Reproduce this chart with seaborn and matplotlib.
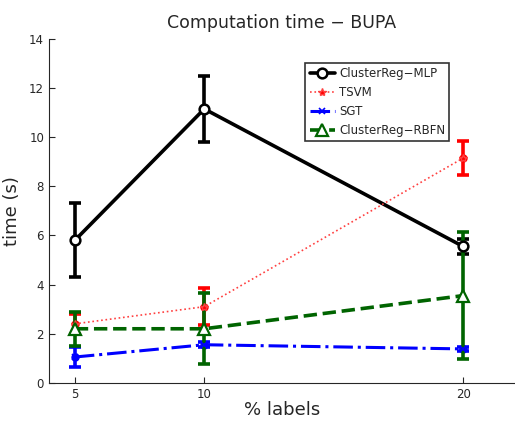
import matplotlib
matplotlib.use("Agg")
import matplotlib.pyplot as plt
import seaborn as sns
import pandas as pd

labels_pct = [5, 10, 20]
mlp_mean = [5.8, 11.15, 5.55]
mlp_err = [1.5, 1.35, 0.3]
tsvm_mean = [2.4, 3.1, 9.15]
tsvm_err = [0.4, 0.75, 0.7]
sgt_mean = [1.05, 1.55, 1.38]
sgt_err = [0.4, 0.1, 0.08]
rbfn_mean = [2.2, 2.2, 3.55]
rbfn_err = [0.7, 1.45, 2.6]

series = ["ClusterReg\u2212MLP", "TSVM", "SGT", "ClusterReg\u2212RBFN"]
means = [mlp_mean, tsvm_mean, sgt_mean, rbfn_mean]
errs = [mlp_err, tsvm_err, sgt_err, rbfn_err]

rows = []
for name, m, e in zip(series, means, errs):
    for x, v, s in zip(labels_pct, m, e):
        rows.append({"labels": x, "time": v, "err": s, "method": name})
df = pd.DataFrame(rows)

sns.set_style("ticks")
plt.rcParams["font.family"] = ["DejaVu Sans"]

fig = plt.figure(figsize=(5.15, 4.23), dpi=100)
ax = fig.add_axes([0.095, 0.095, 0.905, 0.813])

styles = {
    "ClusterReg\u2212MLP": dict(color="black", ls="-", lw=2.6, marker="o", mfc="white", ms=7, mew=1.8),
    "TSVM": dict(color="#ff4040", ls=":", lw=1.2, marker="*", mfc="red", ms=6, mew=1),
    "SGT": dict(color="#0000ff", ls="-.", lw=2.2, marker="x", mfc="blue", ms=5, mew=1.2),
    "ClusterReg\u2212RBFN": dict(color="#006400", ls="--", lw=2.6, marker="^", mfc="white", ms=8, mew=1.6),
}
err_colors = {
    "ClusterReg\u2212MLP": "black",
    "TSVM": "red",
    "SGT": "blue",
    "ClusterReg\u2212RBFN": "#006400",
}

for name in series:
    sub = df[df["method"] == name]
    st = styles[name]
    sns.lineplot(data=sub, x="labels", y="time", ax=ax, color=st["color"],
                 linestyle=st["ls"], linewidth=st["lw"], marker=st["marker"],
                 markerfacecolor=st["mfc"], markeredgecolor=st["color"],
                 markersize=st["ms"], markeredgewidth=st["mew"], label=name,
                 errorbar=None, zorder=3)
    ax.errorbar(sub["labels"], sub["time"], yerr=sub["err"], fmt="none",
                ecolor=err_colors[name], elinewidth=2.6, capsize=4,
                capthick=2.6, zorder=2)
    if name in ("TSVM", "SGT"):
        ax.plot(sub["labels"], sub["time"], "o", color=err_colors[name], ms=5, zorder=2)

ax.set_xlim(4, 22)
ax.set_ylim(0, 14)
ax.set_xticks(labels_pct)
ax.set_yticks(range(0, 15, 2))
ax.tick_params(direction="in", labelsize=8.5, length=4, width=0.8)
ax.tick_params(axis="x", pad=4)
sns.despine(ax=ax, top=True, right=True)
for sp in ("left", "bottom"):
    ax.spines[sp].set_linewidth(0.8)

ax.set_title("Computation time \u2212 BUPA", fontsize=12.5, pad=8)
ax.set_xlabel("% labels", fontsize=13, labelpad=0)
ax.set_ylabel("time (s)", fontsize=13, labelpad=6)

leg = ax.legend(loc="upper right", bbox_to_anchor=(0.859, 0.93), fontsize=8.5,
                frameon=True, fancybox=False, edgecolor="black",
                handlelength=2.2, handletextpad=0.3, borderpad=0.35,
                labelspacing=0.5, borderaxespad=0)
leg.get_frame().set_linewidth(1.2)

fig.savefig("out.png", dpi=100)
